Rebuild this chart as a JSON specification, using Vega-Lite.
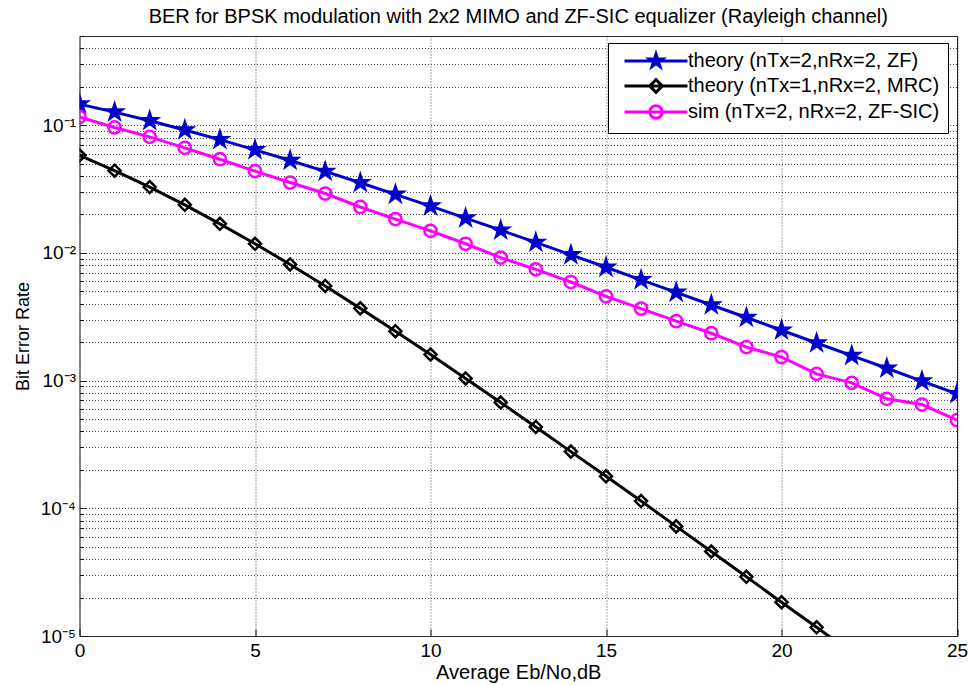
{
  "$schema": "https://vega.github.io/schema/vega-lite/v6.json",
  "width": 877.5,
  "height": 600,
  "autosize": {"type": "none"},
  "padding": {"left": 79.5, "top": 36, "right": 12, "bottom": 49},
  "background": "white",
  "title": {
    "text": "BER for BPSK modulation with 2x2 MIMO and ZF-SIC equalizer (Rayleigh channel)",
    "font": "Liberation Sans", "fontSize": 20, "fontWeight": "normal", "color": "black",
    "anchor": "middle", "offset": 0
  },
  "config": {
    "view": {"stroke": "#222", "strokeWidth": 1},
    "axis": {
      "labelFont": "Liberation Sans", "labelColor": "black", "labelFontSize": 19,
      "titleFont": "Liberation Sans", "titleColor": "black", "titleFontWeight": "normal",
      "grid": true, "gridColor": "#333", "gridDash": [1, 2], "gridWidth": 1, "gridOpacity": 0.9,
      "ticks": true, "tickColor": "#111", "tickWidth": 1,
      "domain": false, "labelOverlap": false, "labelBound": false, "labelFlush": false
    },
    "legend": {
      "orient": "none", "legendX": 528.5, "legendY": 7,
      "strokeColor": "#000", "fillColor": "white", "padding": 8,
      "labelFont": "Liberation Sans", "labelFontSize": 20, "labelColor": "black", "labelLimit": 500,
      "symbolSize": 256, "symbolStrokeWidth": 3, "symbolOffset": 30, "labelOffset": 22, "rowPadding": 0
    }
  },
  "data": {
    "values": [
      {"snr": 0, "ber": 0.1464, "series": "theory (nTx=2,nRx=2, ZF)"},
      {"snr": 1, "ber": 0.1267, "series": "theory (nTx=2,nRx=2, ZF)"},
      {"snr": 2, "ber": 0.1085, "series": "theory (nTx=2,nRx=2, ZF)"},
      {"snr": 3, "ber": 0.09191, "series": "theory (nTx=2,nRx=2, ZF)"},
      {"snr": 4, "ber": 0.07714, "series": "theory (nTx=2,nRx=2, ZF)"},
      {"snr": 5, "ber": 0.06418, "series": "theory (nTx=2,nRx=2, ZF)"},
      {"snr": 6, "ber": 0.053, "series": "theory (nTx=2,nRx=2, ZF)"},
      {"snr": 7, "ber": 0.04348, "series": "theory (nTx=2,nRx=2, ZF)"},
      {"snr": 8, "ber": 0.03546, "series": "theory (nTx=2,nRx=2, ZF)"},
      {"snr": 9, "ber": 0.02878, "series": "theory (nTx=2,nRx=2, ZF)"},
      {"snr": 10, "ber": 0.02327, "series": "theory (nTx=2,nRx=2, ZF)"},
      {"snr": 11, "ber": 0.01875, "series": "theory (nTx=2,nRx=2, ZF)"},
      {"snr": 12, "ber": 0.01507, "series": "theory (nTx=2,nRx=2, ZF)"},
      {"snr": 13, "ber": 0.01208, "series": "theory (nTx=2,nRx=2, ZF)"},
      {"snr": 14, "ber": 0.00966, "series": "theory (nTx=2,nRx=2, ZF)"},
      {"snr": 15, "ber": 0.00772, "series": "theory (nTx=2,nRx=2, ZF)"},
      {"snr": 16, "ber": 0.00616, "series": "theory (nTx=2,nRx=2, ZF)"},
      {"snr": 17, "ber": 0.00491, "series": "theory (nTx=2,nRx=2, ZF)"},
      {"snr": 18, "ber": 0.00391, "series": "theory (nTx=2,nRx=2, ZF)"},
      {"snr": 19, "ber": 0.00312, "series": "theory (nTx=2,nRx=2, ZF)"},
      {"snr": 20, "ber": 0.00248, "series": "theory (nTx=2,nRx=2, ZF)"},
      {"snr": 21, "ber": 0.00197, "series": "theory (nTx=2,nRx=2, ZF)"},
      {"snr": 22, "ber": 0.00157, "series": "theory (nTx=2,nRx=2, ZF)"},
      {"snr": 23, "ber": 0.00125, "series": "theory (nTx=2,nRx=2, ZF)"},
      {"snr": 24, "ber": 0.000992, "series": "theory (nTx=2,nRx=2, ZF)"},
      {"snr": 25, "ber": 0.000789, "series": "theory (nTx=2,nRx=2, ZF)"},
      {"snr": 0, "ber": 0.0581, "series": "theory (nTx=1,nRx=2, MRC)"},
      {"snr": 1, "ber": 0.0441, "series": "theory (nTx=1,nRx=2, MRC)"},
      {"snr": 2, "ber": 0.0328, "series": "theory (nTx=1,nRx=2, MRC)"},
      {"snr": 3, "ber": 0.0238, "series": "theory (nTx=1,nRx=2, MRC)"},
      {"snr": 4, "ber": 0.0169, "series": "theory (nTx=1,nRx=2, MRC)"},
      {"snr": 5, "ber": 0.0118, "series": "theory (nTx=1,nRx=2, MRC)"},
      {"snr": 6, "ber": 0.00813, "series": "theory (nTx=1,nRx=2, MRC)"},
      {"snr": 7, "ber": 0.00551, "series": "theory (nTx=1,nRx=2, MRC)"},
      {"snr": 8, "ber": 0.00368, "series": "theory (nTx=1,nRx=2, MRC)"},
      {"snr": 9, "ber": 0.00244, "series": "theory (nTx=1,nRx=2, MRC)"},
      {"snr": 10, "ber": 0.0016, "series": "theory (nTx=1,nRx=2, MRC)"},
      {"snr": 11, "ber": 0.00104, "series": "theory (nTx=1,nRx=2, MRC)"},
      {"snr": 12, "ber": 0.000674, "series": "theory (nTx=1,nRx=2, MRC)"},
      {"snr": 13, "ber": 0.000434, "series": "theory (nTx=1,nRx=2, MRC)"},
      {"snr": 14, "ber": 0.000278, "series": "theory (nTx=1,nRx=2, MRC)"},
      {"snr": 15, "ber": 0.000178, "series": "theory (nTx=1,nRx=2, MRC)"},
      {"snr": 16, "ber": 0.000114, "series": "theory (nTx=1,nRx=2, MRC)"},
      {"snr": 17, "ber": 0.0000722, "series": "theory (nTx=1,nRx=2, MRC)"},
      {"snr": 18, "ber": 0.0000459, "series": "theory (nTx=1,nRx=2, MRC)"},
      {"snr": 19, "ber": 0.0000291, "series": "theory (nTx=1,nRx=2, MRC)"},
      {"snr": 20, "ber": 0.0000184, "series": "theory (nTx=1,nRx=2, MRC)"},
      {"snr": 21, "ber": 0.0000117, "series": "theory (nTx=1,nRx=2, MRC)"},
      {"snr": 22, "ber": 0.00000739, "series": "theory (nTx=1,nRx=2, MRC)"},
      {"snr": 23, "ber": 0.00000467, "series": "theory (nTx=1,nRx=2, MRC)"},
      {"snr": 24, "ber": 0.00000295, "series": "theory (nTx=1,nRx=2, MRC)"},
      {"snr": 25, "ber": 0.00000187, "series": "theory (nTx=1,nRx=2, MRC)"},
      {"snr": 0, "ber": 0.116, "series": "sim (nTx=2, nRx=2, ZF-SIC)"},
      {"snr": 1, "ber": 0.0961, "series": "sim (nTx=2, nRx=2, ZF-SIC)"},
      {"snr": 2, "ber": 0.0811, "series": "sim (nTx=2, nRx=2, ZF-SIC)"},
      {"snr": 3, "ber": 0.0665, "series": "sim (nTx=2, nRx=2, ZF-SIC)"},
      {"snr": 4, "ber": 0.0542, "series": "sim (nTx=2, nRx=2, ZF-SIC)"},
      {"snr": 5, "ber": 0.0437, "series": "sim (nTx=2, nRx=2, ZF-SIC)"},
      {"snr": 6, "ber": 0.0356, "series": "sim (nTx=2, nRx=2, ZF-SIC)"},
      {"snr": 7, "ber": 0.0292, "series": "sim (nTx=2, nRx=2, ZF-SIC)"},
      {"snr": 8, "ber": 0.0229, "series": "sim (nTx=2, nRx=2, ZF-SIC)"},
      {"snr": 9, "ber": 0.0184, "series": "sim (nTx=2, nRx=2, ZF-SIC)"},
      {"snr": 10, "ber": 0.0149, "series": "sim (nTx=2, nRx=2, ZF-SIC)"},
      {"snr": 11, "ber": 0.0118, "series": "sim (nTx=2, nRx=2, ZF-SIC)"},
      {"snr": 12, "ber": 0.00919, "series": "sim (nTx=2, nRx=2, ZF-SIC)"},
      {"snr": 13, "ber": 0.00744, "series": "sim (nTx=2, nRx=2, ZF-SIC)"},
      {"snr": 14, "ber": 0.00592, "series": "sim (nTx=2, nRx=2, ZF-SIC)"},
      {"snr": 15, "ber": 0.00457, "series": "sim (nTx=2, nRx=2, ZF-SIC)"},
      {"snr": 16, "ber": 0.00366, "series": "sim (nTx=2, nRx=2, ZF-SIC)"},
      {"snr": 17, "ber": 0.00292, "series": "sim (nTx=2, nRx=2, ZF-SIC)"},
      {"snr": 18, "ber": 0.00235, "series": "sim (nTx=2, nRx=2, ZF-SIC)"},
      {"snr": 19, "ber": 0.00183, "series": "sim (nTx=2, nRx=2, ZF-SIC)"},
      {"snr": 20, "ber": 0.00153, "series": "sim (nTx=2, nRx=2, ZF-SIC)"},
      {"snr": 21, "ber": 0.00113, "series": "sim (nTx=2, nRx=2, ZF-SIC)"},
      {"snr": 22, "ber": 0.00096, "series": "sim (nTx=2, nRx=2, ZF-SIC)"},
      {"snr": 23, "ber": 0.00072, "series": "sim (nTx=2, nRx=2, ZF-SIC)"},
      {"snr": 24, "ber": 0.00065, "series": "sim (nTx=2, nRx=2, ZF-SIC)"},
      {"snr": 25, "ber": 0.00049, "series": "sim (nTx=2, nRx=2, ZF-SIC)"}
    ]
  },
  "encoding": {
    "x": {
      "field": "snr", "type": "quantitative",
      "scale": {"domain": [0, 25], "nice": false, "zero": false},
      "axis": {"values": [0, 5, 10, 15, 20, 25], "format": "d", "tickSize": -7, "labelPadding": 12, "title": "Average Eb/No,dB", "titleFontSize": 20, "titlePadding": 2}
    },
    "y": {
      "field": "ber", "type": "quantitative",
      "scale": {"type": "log", "domain": [0.00001, 0.5], "nice": false},
      "axis": {
        "labelExpr": "abs(log(datum.value)/LN10 - round(log(datum.value)/LN10)) < 0.001 ? '10' + ['⁰','⁻¹','⁻²','⁻³','⁻⁴','⁻⁵','⁻⁶'][-round(log(datum.value)/LN10)] : ''",
        "tickSize": {"condition": {"test": "abs(log(datum.value)/LN10 - round(log(datum.value)/LN10)) < 0.001", "value": -7}, "value": -4},
        "labelPadding": 11, "title": "Bit Error Rate", "titleFontSize": 18, "titlePadding": 8
      }
    },
    "color": {
      "field": "series", "type": "nominal",
      "scale": {
        "domain": ["theory (nTx=2,nRx=2, ZF)", "theory (nTx=1,nRx=2, MRC)", "sim (nTx=2, nRx=2, ZF-SIC)"],
        "range": ["#0000cc", "#000000", "#ff00ff"]
      },
      "legend": {
        "title": null,
        "encode": {
          "symbols": {
            "update": {
              "shape": {"signal": "indexof(datum.value, 'MRC') >= 0 ? 'M-3.94,0H3.94M-0.8,0L0,-0.8L0.8,0L0,0.8Z' : (indexof(datum.value, 'SIC') >= 0 ? 'M-3.94,0H3.94M-0.78,0A0.78,0.78,0,1,1,0.78,0A0.78,0.78,0,1,1,-0.78,0Z' : 'M-3.94,0H3.94M0,-0.85L0.191,-0.263L0.809,-0.263L0.309,0.1L0.5,0.688L0,0.325L-0.5,0.688L-0.309,0.1L-0.809,-0.263L-0.191,-0.263Z')"},
              "size": {"value": 256},
              "fill": {"value": "transparent"},
              "strokeWidth": {"value": 3}
            }
          }
        }
      }
    }
  },
  "layer": [
    {
      "mark": {"type": "line", "strokeWidth": 3, "clip": true}
    },
    {
      "transform": [{"filter": "indexof(datum.series, 'ZF)') >= 0"}],
      "mark": {"type": "point", "filled": false, "strokeWidth": 3.5, "size": 169, "opacity": 1, "clip": true,
        "shape": "M0,-1L0.2245,-0.309L0.9511,-0.309L0.3633,0.118L0.5878,0.809L0,0.382L-0.5878,0.809L-0.3633,0.118L-0.9511,-0.309L-0.2245,-0.309Z"}
    },
    {
      "transform": [{"filter": "indexof(datum.series, 'MRC') >= 0"}],
      "mark": {"type": "point", "filled": false, "strokeWidth": 2.5, "size": 144, "opacity": 1, "clip": true, "shape": "diamond"}
    },
    {
      "transform": [{"filter": "indexof(datum.series, 'SIC') >= 0"}],
      "mark": {"type": "point", "filled": false, "strokeWidth": 2.5, "size": 150, "opacity": 1, "clip": true, "shape": "circle"}
    }
  ]
}
